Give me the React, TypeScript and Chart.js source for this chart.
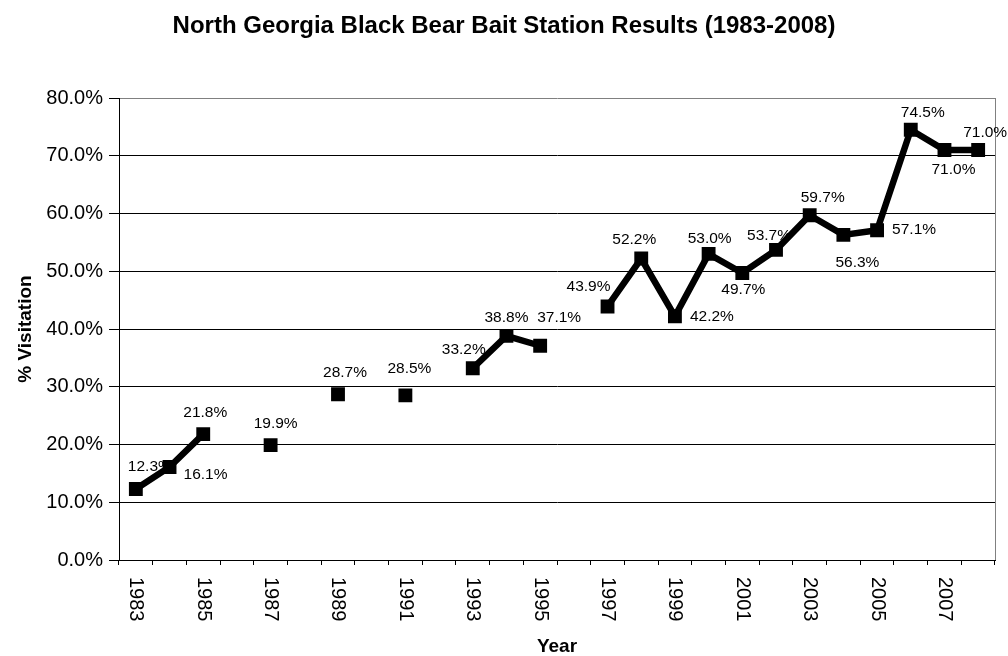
import React, { useEffect, useRef } from "react";
import { Chart, registerables } from "chart.js";

Chart.register(...registerables);

const TITLE = "North Georgia Black Bear Bait Station Results (1983-2008)";
const X_TITLE = "Year";
const Y_TITLE = "% Visitation";

const YEARS = [
  "1983", "1984", "1985", "1986", "1987", "1988", "1989", "1990", "1991",
  "1992", "1993", "1994", "1995", "1996", "1997", "1998", "1999", "2000",
  "2001", "2002", "2003", "2004", "2005", "2006", "2007", "2008",
];

const VISITATION: (number | null)[] = [
  12.3, 16.1, 21.8, null, 19.9, null, 28.7, null, 28.5, null, 33.2, 38.8, 37.1,
  null, 43.9, 52.2, 42.2, 53.0, 49.7, 53.7, 59.7, 56.3, 57.1, 74.5, 71.0, 71.0,
];

const Y_MIN = 0;
const Y_MAX = 80;
const Y_STEP = 10;

// label placement (pixel offsets from each point), like manually placed Excel labels
const LABEL_OFFSETS: ([number, number] | null)[] = [
  [14, -22], [36, 8], [2, -21], null, [5, -21], null, [7, -22], null, [4, -27],
  null, [-9, -19], [0, -18], [19, -28], null, [-19, -20], [-7, -19], [37, 0],
  [1, -15], [1, 17], [-7, -14], [13, -18], [14, 28], [37, -1], [12, -17],
  [9, 20], [7, -17],
];

const FONT = '"Liberation Sans", Arial, Helvetica, sans-serif';

const W = 1008;
const H = 656;
const AREA = { left: 119, top: 98, right: 995, bottom: 560 };

const decorPlugin = {
  id: "decor",
  beforeDatasetsDraw(chart: any) {
    const ctx = chart.ctx;
    const meta = chart.getDatasetMeta(0);
    ctx.save();
    // right border
    ctx.strokeStyle = "#808080";
    ctx.lineWidth = 1;
    ctx.beginPath();
    ctx.moveTo(chart.chartArea.right + 0.5, chart.chartArea.top);
    ctx.lineTo(chart.chartArea.right + 0.5, chart.chartArea.bottom);
    ctx.stroke();
    // data labels (drawn under the line, as in the original)
    ctx.font = `15.5px ${FONT}`;
    ctx.fillStyle = "#000";
    ctx.textAlign = "center";
    ctx.textBaseline = "middle";
    meta.data.forEach((el: any, i: number) => {
      const v = VISITATION[i];
      const off = LABEL_OFFSETS[i];
      if (v === null || v === undefined || !off) return;
      ctx.fillText(v.toFixed(1) + "%", el.x + off[0], el.y + off[1]);
    });
    ctx.restore();
  },
  afterDraw(chart: any) {
    const ctx = chart.ctx;
    const xs = chart.scales.x;
    const area = chart.chartArea;
    ctx.save();
    ctx.fillStyle = "#000";
    // title
    ctx.font = `bold 24px ${FONT}`;
    ctx.textAlign = "center";
    ctx.textBaseline = "alphabetic";
    ctx.fillText(TITLE, W / 2, 33);
    // x tick labels, rotated to read top-to-bottom
    ctx.font = `20px ${FONT}`;
    YEARS.forEach((y, i) => {
      if (i % 2 !== 0) return;
      const px = xs.getPixelForTick(i);
      ctx.save();
      ctx.translate(px, 577);
      ctx.rotate(Math.PI / 2);
      ctx.textAlign = "left";
      ctx.textBaseline = "middle";
      ctx.fillText(y, 0, 0);
      ctx.restore();
    });
    // x title
    ctx.font = `bold 19px ${FONT}`;
    ctx.textAlign = "center";
    ctx.textBaseline = "alphabetic";
    ctx.fillText(X_TITLE, (area.left + area.right) / 2, 652);
    // y title
    ctx.save();
    ctx.translate(26, (area.top + area.bottom) / 2);
    ctx.rotate(-Math.PI / 2);
    ctx.textBaseline = "middle";
    ctx.fillText(Y_TITLE, 0, 0);
    ctx.restore();
    ctx.restore();
  },
};

export default function App() {
  const ref = useRef<HTMLCanvasElement | null>(null);

  useEffect(() => {
    if (!ref.current) return;
    Chart.defaults.font.family = FONT;
    const chart = new Chart(ref.current, {
      type: "line",
      data: {
        labels: YEARS,
        datasets: [
          {
            data: VISITATION,
            borderColor: "#000",
            backgroundColor: "#000",
            borderWidth: 6.5,
            tension: 0,
            spanGaps: false,
            pointStyle: "rect",
            pointRadius: 9.8,
            pointHoverRadius: 9.8,
            pointBackgroundColor: "#000",
            pointBorderColor: "#000",
            pointBorderWidth: 0,
          },
        ],
      },
      options: {
        responsive: false,
        animation: false,
        devicePixelRatio: 1,
        layout: {
          padding: {
            left: 0,
            top: AREA.top,
            right: W - AREA.right,
            bottom: 0,
          },
        },
        plugins: {
          legend: { display: false },
          title: { display: false },
          tooltip: { enabled: false },
        },
        scales: {
          x: {
            type: "category",
            offset: true,
            grid: {
              offset: true,
              drawOnChartArea: false,
              drawTicks: true,
              tickLength: 5,
              color: "#000",
            },
            border: { display: true, color: "#000", width: 1 },
            ticks: { display: false },
            afterFit(s: any) {
              s.height = H - AREA.bottom;
            },
          },
          y: {
            min: Y_MIN,
            max: Y_MAX,
            grid: {
              color: (c: any) => (c.tick && c.tick.value === Y_MAX ? "#808080" : "#000"),
              tickColor: "#000",
              tickLength: 10,
              lineWidth: 1,
            },
            border: { display: true, color: "#000", width: 1 },
            ticks: {
              stepSize: Y_STEP,
              padding: 6,
              color: "#000",
              font: { size: 20, family: FONT },
              callback: (v: any) => Number(v).toFixed(1) + "%",
            },
            afterFit(s: any) {
              s.width = AREA.left;
            },
          },
        },
      },
      plugins: [decorPlugin],
    });
    return () => chart.destroy();
  }, []);

  return (
    <div style={{ position: "fixed", left: 0, top: 0, width: W, height: H, background: "#fff" }}>
      <canvas ref={ref} width={W} height={H} style={{ display: "block" }} />
    </div>
  );
}
